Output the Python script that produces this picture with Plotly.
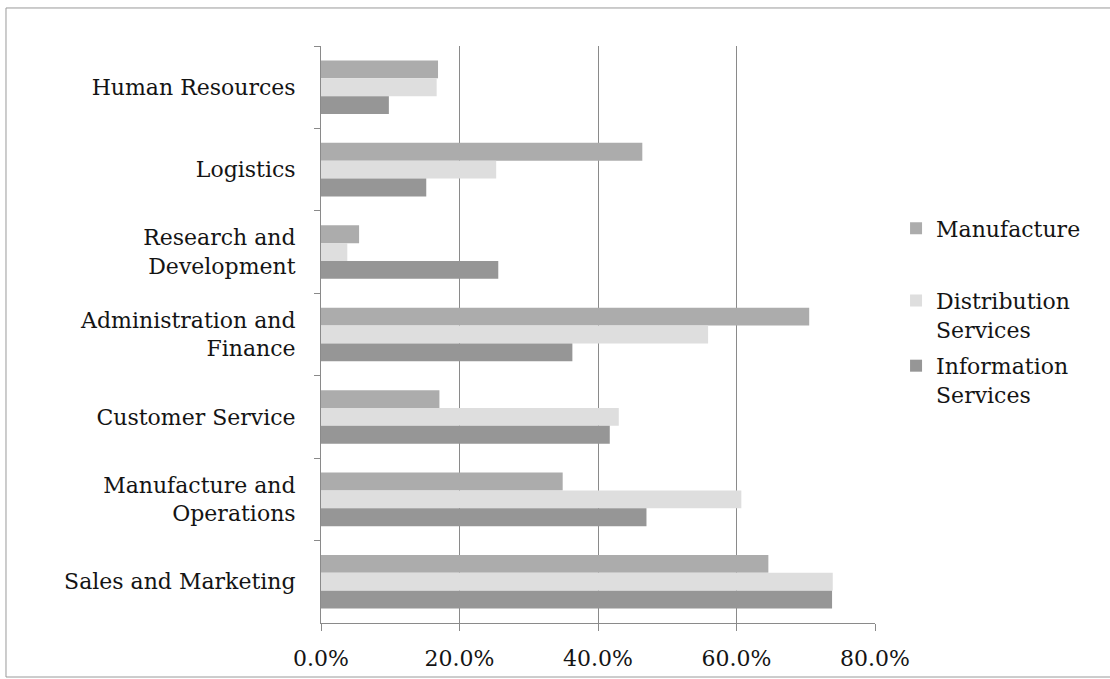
import plotly.graph_objects as go

# Business functions, listed top to bottom as they appear on the axis
categories = [
    "Human Resources",
    "Logistics",
    "Research and<br>Development",
    "Administration and<br>Finance",
    "Customer Service",
    "Manufacture and<br>Operations",
    "Sales and Marketing",
]

# Share of respondents per sector (fractions)
manufacture = [0.169, 0.464, 0.055, 0.705, 0.171, 0.349, 0.646]
distribution_services = [0.167, 0.253, 0.038, 0.559, 0.430, 0.607, 0.739]
information_services = [0.098, 0.152, 0.256, 0.363, 0.417, 0.470, 0.738]

x_ticks = [0.0, 0.2, 0.4, 0.6, 0.8]
x_tick_labels = ["0.0%", "20.0%", "40.0%", "60.0%", "80.0%"]

FONT = "DejaVu Serif"
TEXT = "#141414"
SIZE = 22

fig = go.Figure()
fig.add_trace(go.Bar(
    y=categories, x=manufacture, name="Manufacture", orientation="h",
    marker=dict(color="#acacac", line=dict(width=0)), legend="legend",
))
fig.add_trace(go.Bar(
    y=categories, x=distribution_services, name="Distribution<br>Services",
    orientation="h", marker=dict(color="#dedede", line=dict(width=0)),
    legend="legend2",
))
fig.add_trace(go.Bar(
    y=categories, x=information_services, name="Information<br>Services",
    orientation="h", marker=dict(color="#969696", line=dict(width=0)),
    legend="legend3",
))

legend_common = dict(
    xanchor="left", yanchor="top", valign="top",
    font=dict(family=FONT, size=SIZE, color=TEXT),
    bgcolor="rgba(0,0,0,0)", borderwidth=0, itemwidth=30,
)

# Frame around the chart: left, top and bottom edges
frame_color = "#9a9a9a"
left, right, top, bottom = -0.5686, 1.45, 1.0659, -0.0936
frame = [
    dict(type="line", xref="paper", yref="paper", x0=left, x1=left,
         y0=bottom, y1=top, line=dict(color=frame_color, width=1)),
    dict(type="line", xref="paper", yref="paper", x0=left, x1=right,
         y0=top, y1=top, line=dict(color=frame_color, width=1)),
    dict(type="line", xref="paper", yref="paper", x0=left, x1=right,
         y0=bottom, y1=bottom, line=dict(color=frame_color, width=1)),
]

fig.update_layout(
    width=1110, height=679,
    margin=dict(l=321, r=235, t=46, b=56, autoexpand=False),
    paper_bgcolor="white", plot_bgcolor="white",
    barmode="group", bargap=0.35, bargroupgap=0.0,
    font=dict(family=FONT, size=SIZE, color=TEXT),
    showlegend=True,
    legend=dict(x=1.038, y=0.72, **legend_common),
    legend2=dict(x=1.038, y=0.595, **legend_common),
    legend3=dict(x=1.038, y=0.482, **legend_common),
    xaxis=dict(
        range=[0, 0.8], tickvals=x_ticks, ticktext=x_tick_labels,
        showgrid=True, gridcolor="#8a8a8a", gridwidth=1,
        showline=True, linecolor="#8a8a8a", linewidth=1,
        ticks="outside", ticklen=7, tickcolor="#8a8a8a",
        ticklabelstandoff=9, automargin=False,
        zeroline=False, fixedrange=True,
        tickfont=dict(family=FONT, size=SIZE, color=TEXT),
    ),
    yaxis=dict(
        autorange="reversed", type="category",
        showline=True, linecolor="#8a8a8a", linewidth=1,
        ticks="outside", ticklen=6, tickcolor="#8a8a8a",
        tickson="boundaries", showgrid=False,
        ticklabelstandoff=20, automargin=False,
        tickfont=dict(family=FONT, size=SIZE, color=TEXT),
    ),
    shapes=frame,
)

fig.write_html("out.html")
